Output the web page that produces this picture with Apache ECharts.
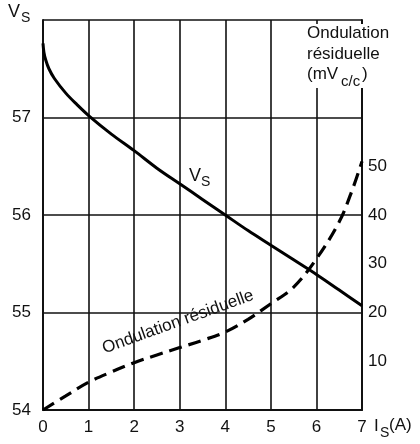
<!DOCTYPE html>
<html><head><meta charset="utf-8">
<script src="https://cdn.jsdelivr.net/npm/echarts@6/dist/echarts.min.js"></script>
<style>html,body{margin:0;padding:0;background:#fff}#c{width:420px;height:444px}</style>
</head><body><div id="c"></div>
<script>
const isValues = [0,0.02,0.06,0.13,0.25,0.5,0.75,1,1.5,2,2.5,3,3.5,4,4.5,5,5.5,6,6.5,7];
const vsValues = [57.76,57.67,57.59,57.5,57.4,57.25,57.13,57.02,56.83,56.66,56.48,56.32,56.16,56.0,55.84,55.69,55.54,55.39,55.23,55.07];
const ondX = [0,0.5,1,1.5,2,2.5,3,3.5,4,4.5,5,5.5,6,6.5,6.8,7];
const ondValues = [0,2.9,5.7,7.8,9.7,11.3,12.8,14.3,16,18.6,21.8,25.2,31,38.6,45.5,51];
const xTicks = [0,1,2,3,4,5,6,7];
const leftTicks = [54,55,56,57];
const rightTicks = [10,20,30,40,50];

const font = '"Liberation Sans", Arial, sans-serif';
const chart = echarts.init(document.getElementById('c'), null, {renderer:'canvas'});
chart.setOption({
  animation:false,
  backgroundColor:'#fff',
  grid:{left:43,right:58,top:20,bottom:34},
  xAxis:{type:'value',min:0,max:7,interval:1,
    axisLine:{lineStyle:{color:'#111',width:2}},axisTick:{show:false},
    axisLabel:{color:'#111',fontSize:17,fontFamily:font,margin:9,
      formatter:v=>xTicks.includes(v)?String(v):''},
    splitLine:{show:true,lineStyle:{color:'#111',width:1.6}}},
  yAxis:[
    {type:'value',min:54,max:58,interval:1,position:'left',
     axisLine:{show:true,lineStyle:{color:'#111',width:2}},axisTick:{show:false},
     axisLabel:{color:'#111',fontSize:17,fontFamily:font,margin:12,
       formatter:v=>leftTicks.includes(v)?String(v):''},
     splitLine:{show:true,lineStyle:{color:'#111',width:1.6}}},
    {type:'value',min:0,max:80,interval:10,position:'right',
     axisLine:{show:true,lineStyle:{color:'#111',width:2}},axisTick:{show:false},
     axisLabel:{color:'#111',fontSize:17,fontFamily:font,margin:6,
       formatter:v=>rightTicks.includes(v)?String(v):''},
     splitLine:{show:false}}
  ],
  series:[
    {type:'line',yAxisIndex:0,smooth:0.35,symbol:'none',
     data:isValues.map((x,i)=>[x,vsValues[i]]),
     lineStyle:{color:'#000',width:3},z:5},
    {type:'line',yAxisIndex:1,smooth:0.35,symbol:'none',
     data:ondX.map((x,i)=>[x,ondValues[i]]),
     lineStyle:{color:'#000',width:3.2,type:[13,7]},z:5}
  ],
  graphic:[
    {type:'rect',shape:{x:302,y:24,width:100,height:64},style:{fill:'#fff'},z:50},
    {type:'text',left:307,top:25,z:51,style:{text:'Ondulation',font:'17px '+font,fill:'#111'}},
    {type:'text',left:307,top:46,z:51,style:{text:'résiduelle',font:'17px '+font,fill:'#111'}},
    {type:'text',left:307,top:66,z:51,style:{text:'(mV',font:'17px '+font,fill:'#111'}},
    {type:'text',left:341,top:74,z:51,style:{text:'c/c',font:'15px '+font,fill:'#111'}},
    {type:'text',left:362,top:66,z:51,style:{text:')',font:'17px '+font,fill:'#111'}},
    {type:'text',left:8,top:3,style:{text:'V',font:'18px '+font,fill:'#111'}},
    {type:'text',left:21,top:11,style:{text:'S',font:'14px '+font,fill:'#111'}},
    {type:'text',left:189,top:167,style:{text:'V',font:'18px '+font,fill:'#111'}},
    {type:'text',left:201,top:175,style:{text:'S',font:'14px '+font,fill:'#111'}},
    {type:'text',left:374,top:418,style:{text:'I',font:'17px '+font,fill:'#111'}},
    {type:'text',left:380,top:426,style:{text:'S',font:'14px '+font,fill:'#111'}},
    {type:'text',left:389,top:417,style:{text:'(A)',font:'17px '+font,fill:'#111'}},
    {type:'text',x:178,y:322,rotation:0.345,z:10,
     style:{text:'Ondulation résiduelle',font:'17px '+font,fill:'#111',
       textAlign:'center',textVerticalAlign:'middle'}}
  ]
});
</script></body></html>
